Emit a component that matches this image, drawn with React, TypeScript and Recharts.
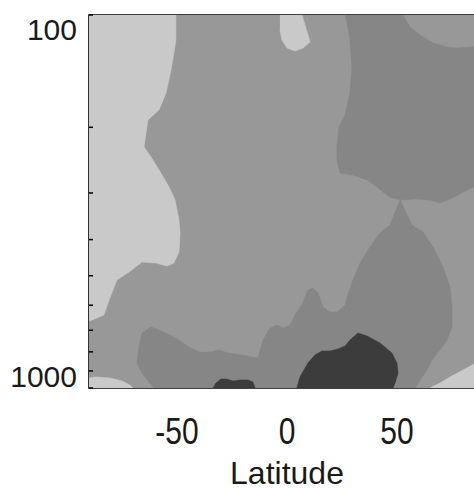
import React from 'react';
import { ComposedChart, Scatter, XAxis, YAxis, ReferenceArea } from 'recharts';

type Pt = { lat: number; p: number };

// Tick values / labels
const xTicks = [-50, 0, 50];
const yTicks = [100, 200, 300, 400, 500, 600, 700, 800, 900, 1000];
const yLabelled = [100, 1000];
const xTitle = 'Latitude';

// Filled contour regions (latitude, pressure hPa)
const fullField: Pt[] = [
  { lat: -90, p: 100 }, { lat: 90, p: 100 }, { lat: 90, p: 1000 }, { lat: -90, p: 1000 },
];

const lightLeft: Pt[] = [
  { lat: -90, p: 100 }, { lat: -50.5, p: 100 }, { lat: -50.5, p: 116.7 }, { lat: -51.4, p: 126.4 },
  { lat: -52.7, p: 140.4 }, { lat: -55, p: 161.9 }, { lat: -58.2, p: 179.7 }, { lat: -63.2, p: 191.2 },
  { lat: -65, p: 225.9 }, { lat: -61.8, p: 240.3 }, { lat: -57.3, p: 265.2 }, { lat: -53.6, p: 289.2 },
  { lat: -50.9, p: 313.3 }, { lat: -49.1, p: 354.5 }, { lat: -48.6, p: 384.1 }, { lat: -49.1, p: 432 },
  { lat: -51.4, p: 462.3 }, { lat: -54.5, p: 470.9 }, { lat: -59.5, p: 462.3 }, { lat: -65.9, p: 459.5 },
  { lat: -71.8, p: 488.7 }, { lat: -77.3, p: 513.5 }, { lat: -80.9, p: 580.9 }, { lat: -83.2, p: 637.3 },
  { lat: -88.6, p: 657.3 }, { lat: -90, p: 661.3 },
];

const lightTongue: Pt[] = [
  { lat: -3.2, p: 100 }, { lat: 6.8, p: 100 }, { lat: 8.6, p: 108.3 }, { lat: 10.5, p: 118.1 },
  { lat: 7.3, p: 122.6 }, { lat: 3.6, p: 124.9 }, { lat: 0, p: 122.6 }, { lat: -2.3, p: 116.7 },
  { lat: -3.2, p: 109.7 },
];

const lightBottomLeft: Pt[] = [
  { lat: -90, p: 940.3 }, { lat: -87.3, p: 934.5 }, { lat: -80.5, p: 940.3 }, { lat: -75, p: 957.9 },
  { lat: -71.4, p: 981.7 }, { lat: -70, p: 1000 }, { lat: -90, p: 1000 },
];

const lightBottomRight: Pt[] = [
  { lat: 65, p: 1000 }, { lat: 69.5, p: 969.9 }, { lat: 74.1, p: 934.5 }, { lat: 80, p: 894.9 },
  { lat: 85, p: 862.6 }, { lat: 90, p: 836.3 }, { lat: 90, p: 1000 },
];

const darkTopRight: Pt[] = [
  { lat: 26.4, p: 100 }, { lat: 52.7, p: 100 }, { lat: 55.9, p: 107.7 }, { lat: 60.5, p: 113.1 },
  { lat: 66.4, p: 118.9 }, { lat: 72.7, p: 121.8 }, { lat: 77.3, p: 122.6 }, { lat: 84.5, p: 121.8 },
  { lat: 90, p: 121.1 }, { lat: 90, p: 285.6 }, { lat: 85, p: 289.2 }, { lat: 81.8, p: 294.6 },
  { lat: 77.7, p: 303.9 }, { lat: 74.1, p: 311.4 }, { lat: 69.5, p: 319.2 }, { lat: 65, p: 313.3 },
  { lat: 58.2, p: 311.4 }, { lat: 51.4, p: 313.3 }, { lat: 46.8, p: 307.6 }, { lat: 43.6, p: 298.3 },
  { lat: 40.9, p: 289.2 }, { lat: 36.4, p: 276.9 }, { lat: 30, p: 268.5 }, { lat: 24.1, p: 265.2 },
  { lat: 22.7, p: 244.8 }, { lat: 22.7, p: 225.9 }, { lat: 23.6, p: 199.7 }, { lat: 26.4, p: 185.4 },
  { lat: 28.6, p: 161.9 }, { lat: 29.5, p: 138.7 }, { lat: 28.6, p: 116.7 },
];

const darkLower: Pt[] = [
  { lat: -60.5, p: 1000 }, { lat: -62.7, p: 963.9 }, { lat: -65.9, p: 911.7 }, { lat: -68.2, p: 857.3 },
  { lat: -67.3, p: 776.6 }, { lat: -65.9, p: 712.3 }, { lat: -61.8, p: 686.3 }, { lat: -55, p: 712.3 },
  { lat: -49.1, p: 743.8 }, { lat: -44.5, p: 776.6 }, { lat: -40, p: 801 }, { lat: -34.1, p: 801 },
  { lat: -30.9, p: 791.1 }, { lat: -26.8, p: 806 }, { lat: -20.5, p: 815.9 }, { lat: -13.2, p: 831.2 },
  { lat: -10.9, p: 743.8 }, { lat: -7.7, p: 690.6 }, { lat: -4.5, p: 677.9 }, { lat: -1.8, p: 690.6 },
  { lat: 1.4, p: 677.9 }, { lat: 3.6, p: 637.3 }, { lat: 6.8, p: 599.1 }, { lat: 9.5, p: 546.2 },
  { lat: 11.8, p: 539.5 }, { lat: 14.1, p: 556.4 }, { lat: 16.4, p: 606.6 }, { lat: 19.5, p: 625.6 },
  { lat: 22.7, p: 625.6 }, { lat: 26.4, p: 599.1 }, { lat: 27.3, p: 570.2 }, { lat: 30, p: 513.5 },
  { lat: 33.2, p: 462.3 }, { lat: 37.7, p: 418.8 }, { lat: 42.3, p: 384.1 }, { lat: 46.8, p: 365.6 },
  { lat: 51.4, p: 313.3 }, { lat: 56.8, p: 365.6 }, { lat: 61.8, p: 381.7 }, { lat: 66.4, p: 418.8 },
  { lat: 70.9, p: 473.8 }, { lat: 74.1, p: 536.2 }, { lat: 75, p: 606.6 }, { lat: 75, p: 686.3 },
  { lat: 72.7, p: 743.8 }, { lat: 69.5, p: 791.1 }, { lat: 65.9, p: 841.5 }, { lat: 63.6, p: 894.9 },
  { lat: 60.5, p: 952 }, { lat: 58.2, p: 1000 },
];

const darkestSmall: Pt[] = [
  { lat: -33.6, p: 1000 }, { lat: -32.3, p: 969.9 }, { lat: -30, p: 946.2 }, { lat: -27.3, p: 946.2 },
  { lat: -24.5, p: 957.9 }, { lat: -21.4, p: 952 }, { lat: -17.7, p: 952 }, { lat: -15.5, p: 963.9 },
  { lat: -14.5, p: 1000 },
];

const darkestBig: Pt[] = [
  { lat: 4.5, p: 1000 }, { lat: 5.9, p: 934.5 }, { lat: 9.5, p: 857.3 }, { lat: 12.7, p: 815.9 },
  { lat: 15.9, p: 796 }, { lat: 19.5, p: 796 }, { lat: 23.2, p: 786.2 }, { lat: 26.4, p: 771.8 },
  { lat: 28.6, p: 743.8 }, { lat: 32.3, p: 712.3 }, { lat: 36.4, p: 725.6 }, { lat: 42.3, p: 757.7 },
  { lat: 47.7, p: 806 }, { lat: 50, p: 857.3 }, { lat: 50.5, p: 911.7 }, { lat: 49.1, p: 969.9 },
  { lat: 48.2, p: 1000 },
];

const C_LIGHT = '#c9c9c9';
const C_MID = '#989898';
const C_DARK = '#868686';
const C_DARKEST = '#3c3c3c';

const layers: { name: string; data: Pt[]; color: string }[] = [
  { name: 'field', data: fullField, color: C_MID },
  { name: 'lightLeft', data: lightLeft, color: C_LIGHT },
  { name: 'lightTongue', data: lightTongue, color: C_LIGHT },
  { name: 'lightBottomLeft', data: lightBottomLeft, color: C_LIGHT },
  { name: 'lightBottomRight', data: lightBottomRight, color: C_LIGHT },
  { name: 'darkTopRight', data: darkTopRight, color: C_DARK },
  { name: 'darkLower', data: darkLower, color: C_DARK },
  { name: 'darkestSmall', data: darkestSmall, color: C_DARKEST },
  { name: 'darkestBig', data: darkestBig, color: C_DARKEST },
];

const FONT = '"Liberation Sans", Arial, Helvetica, sans-serif';
const PLOT_LEFT = 89;
const X_STRETCH = 1.2;

const NoPoint = () => <g />;

const YTick = (props: any) => {
  const { y, payload } = props;
  const v = payload.value as number;
  const show = yLabelled.includes(v);
  return (
    <g>
      <line x1={PLOT_LEFT} x2={PLOT_LEFT + 4} y1={y} y2={y} stroke="#000" strokeWidth={1.5} />
      {show && (
        <text
          x={77}
          y={y}
          dy={v === 100 ? 25 : -1}
          textAnchor="end"
          fontFamily={FONT}
          fontSize={30}
          fill="#1a1a1a"
        >
          {String(v)}
        </text>
      )}
    </g>
  );
};

const XTick = (props: any) => {
  const { x, payload } = props;
  return (
    <text
      transform={`translate(${x},444) scale(1,${X_STRETCH})`}
      x={0}
      y={0}
      textAnchor="middle"
      fontFamily={FONT}
      fontSize={30}
      fill="#1a1a1a"
    >
      {String(payload.value)}
    </text>
  );
};

const XTitle = (props: any) => {
  const vb = props.viewBox || { x: 89, width: 396 };
  const cx = vb.x + vb.width / 2;
  return (
    <text
      x={cx}
      y={484}
      textAnchor="middle"
      fontFamily={FONT}
      fontSize={32}
      fill="#1a1a1a"
    >
      {xTitle}
    </text>
  );
};

export default function App() {
  return (
    <div style={{ position: 'absolute', left: 0, top: 0, width: 474, height: 491, overflow: 'hidden', background: '#fff' }}>
      <ComposedChart width={500} height={491} margin={{ top: 15, right: 15, bottom: 0, left: 0 }}>
        {layers.map((l) => (
          <Scatter
            key={l.name}
            name={l.name}
            data={l.data}
            fill={l.color}
            line={{ fill: l.color, stroke: l.color, strokeWidth: 0.6 }}
            lineType="joint"
            shape={NoPoint}
            legendType="none"
            isAnimationActive={false}
          />
        ))}
        <ReferenceArea x1={-90} x2={90} y1={100} y2={1000} fill="none" stroke="#000" strokeWidth={1.6} />
        <XAxis
          type="number"
          dataKey="lat"
          domain={[-90, 90]}
          ticks={xTicks}
          interval={0}
          allowDataOverflow
          height={103}
          axisLine={false}
          tickLine={false}
          tick={<XTick />}
          label={<XTitle />}
        />
        <YAxis
          type="number"
          dataKey="p"
          scale="log"
          domain={[100, 1000]}
          reversed
          ticks={yTicks}
          interval={0}
          allowDataOverflow
          width={89}
          axisLine={false}
          tickLine={false}
          tick={<YTick />}
        />
      </ComposedChart>
    </div>
  );
}
